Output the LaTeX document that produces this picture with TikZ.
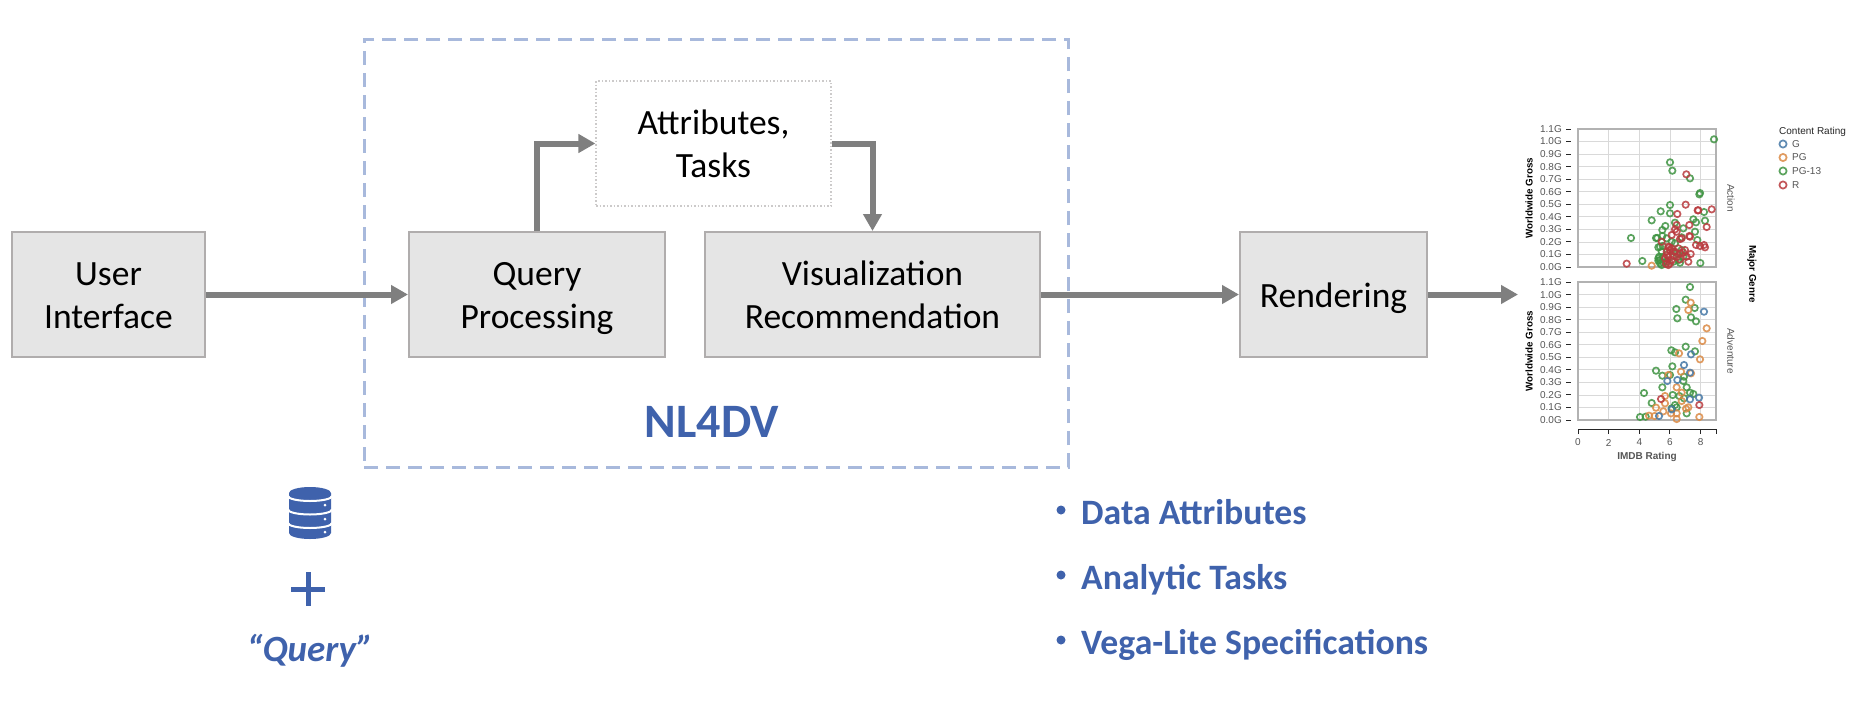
\documentclass[tikz,border=0pt]{standalone}
\usepackage{fontspec}
\setmainfont{Carlito}
\newfontfamily\chartfont{Liberation Sans}
\usetikzlibrary{arrows.meta}
\definecolor{nlblue}{HTML}{3F62AC}
\definecolor{dashblue}{HTML}{A8B9DC}
\definecolor{boxfill}{HTML}{E5E5E5}
\definecolor{boxline}{HTML}{B0ADAD}
\definecolor{arrowgray}{HTML}{7F7F7F}
\definecolor{ptgreen}{HTML}{3F9442}
\definecolor{ptred}{HTML}{B93A3E}
\definecolor{ptorange}{HTML}{DB8A45}
\definecolor{ptblue}{HTML}{4678A6}
\definecolor{ticktext}{HTML}{555555}
\newcommand{\boxline}[2]{\makebox[0pt]{\raisebox{#1}[0pt][0pt]{#2}}}
\newcommand{\twolines}[2]{\boxline{9.5pt}{#1}\boxline{-33.5pt}{#2}}
\tikzset{
  procbox/.style={draw=boxline,fill=boxfill,line width=2,inner sep=0,
    font=\fontsize{35.5}{43}\selectfont,text=black},
  dotbox/.style={draw=boxline!65,dash pattern=on 1.5 off 2,line width=1.2,inner sep=0,
    font=\fontsize{35.5}{43}\selectfont,text=black,fill=white},
  flow/.style={draw=arrowgray,line width=6,-{Triangle[length=17,width=18]}},
  bluetext/.style={text=nlblue,font=\fontsize{35.7}{36}\selectfont\bfseries,inner sep=0},
  pt/.style={draw=#1,line width=1.7,draw opacity=.85,fill=none},
  ticklbl/.style={text=ticktext,font=\chartfont\fontsize{10}{10}\selectfont,inner sep=0},
  axtitle/.style={text=black,font=\chartfont\bfseries\fontsize{9.8}{10}\selectfont,inner sep=0},
  framegrid/.style={draw=black!15,line width=.9},
  chartframe/.style={draw=black!30,line width=1.5},
  axtick/.style={draw=black!85,line width=1},
}
\begin{document}
\begin{tikzpicture}[x=1pt,y=-1pt]
\useasboundingbox (0,0) rectangle (1864,716);
\fill[white] (0,0) rectangle (1864,716);

% NL4DV dashed frame
\node[draw=dashblue,line width=3,dash pattern=on 14 off 8,minimum width=704,minimum height=428,inner sep=0] (nlframe) at (716,253) {};
\node[text=nlblue,font=\fontsize{48}{48}\selectfont\bfseries,inner sep=0] (nltitle) at (712,422) {NL4DV};

% process boxes
\node[procbox,minimum width=193,minimum height=125] (ui) at (108.5,294.5) {\twolines{User}{Interface}};
\node[procbox,minimum width=256,minimum height=125] (qp) at (537,294.5) {\twolines{Query}{Processing}};
\node[procbox,minimum width=335,minimum height=125] (vr) at (872.5,294.5) {\twolines{Visualization}{Recommendation}};
\node[procbox,minimum width=187,minimum height=125] (rd) at (1333.5,294.5) {\boxline{-12.5pt}{Rendering}};
\node[dotbox,minimum width=235,minimum height=125] (at) at (713.5,143.5) {\twolines{Attributes,}{Tasks}};
\coordinate (chartin) at (1518,294.5);

% connectors
\draw[flow] (ui.east) -- (qp.west);
\draw[flow] (qp.north) |- (at.west);
\draw[flow] (at.east) -| (vr.north);
\draw[flow] (vr.east) -- (rd.west);
\draw[flow] (rd.east) -- (chartin);

% database icon
\fill[nlblue] (289,493) arc[start angle=180,end angle=0,x radius=21pt,y radius=6pt]
  -- (331,533) arc[start angle=0,end angle=-180,x radius=21pt,y radius=6pt] -- cycle;
\foreach \yy in {496,509.5,523}
  \draw[white,line width=2] (288,\yy) arc[start angle=180,end angle=360,x radius=22pt,y radius=5pt];
\foreach \yy in {505,519,532}
  \fill[white] (325,\yy) circle[radius=1.5pt];

% plus and query
\fill[nlblue] (291,586.5) rectangle (325,591.5);
\fill[nlblue] (305.5,572) rectangle (310.5,606);
\node[text=nlblue,font=\fontsize{37}{37}\selectfont\bfseries\itshape,inner sep=0,anchor=base] (qtext) at (310,661) {“Query”};

% bullet list
\foreach \i/\yy/\tt in {1/524/Data Attributes,2/589/Analytic Tasks,3/654/Vega-Lite Specifications}{
  \fill[nlblue] (1061,\yy-14) circle[radius=4.5pt];
  \node[bluetext,anchor=base west] (b\i) at (1081,\yy) {\tt};
}

% chart: panels
\foreach \p/\top/\name in {1/129/Action,2/282/Adventure}{
  \foreach \v in {1,...,10}
    \draw[framegrid] (1578,\top+\v*12.55) -- (1716,\top+\v*12.55);
  \foreach \v in {2,4,6,8}
    \draw[framegrid] (1578+\v*15.33,\top) -- (1578+\v*15.33,\top+138);
  \draw[chartframe] (1578,\top) rectangle (1716,\top+138);
  \foreach \v/\lab in {0/1.1G,1/1.0G,2/0.9G,3/0.8G,4/0.7G,5/0.6G,6/0.5G,7/0.4G,8/0.3G,9/0.2G,10/0.1G,11/0.0G}{
    \draw[axtick] (1566,\top+\v*12.55) -- (1571,\top+\v*12.55);
    \node[ticklbl,anchor=east] (yl\p-\v) at (1562,\top+\v*12.55) {\lab};
  }
  \node[axtitle,rotate=90] (yt\p) at (1529,\top+69) {Worldwide Gross};
  \node[ticklbl,rotate=-90] (fc\p) at (1731,\top+69) {\name};
}
\node[axtitle,rotate=-90] (mg) at (1752,274) {Major Genre};

% x axis
\draw[axtick] (1578,434) -- (1578,429) -- (1716,429) -- (1716,434);
\foreach \v in {0,2,4,6,8}{
  \draw[axtick] (1578+\v*15.33,429) -- (1578+\v*15.33,434);
  \node[ticklbl] (xl\v) at (1578+\v*15.33,442.5) {\v};
}
\node[ticklbl,font=\chartfont\bfseries\fontsize{10}{10}\selectfont] (xt) at (1647,457) {IMDB Rating};

% legend
\node[text=black!85,font=\chartfont\fontsize{10}{10}\selectfont,inner sep=0,anchor=west] (lgt) at (1779,132) {Content Rating};
\foreach \i/\yy/\col/\lab in {1/144/ptblue/G,2/157.5/ptorange/PG,3/171/ptgreen/PG-13,4/185/ptred/R}{
  \draw[pt=\col] (1783,\yy) circle[radius=3.6pt];
  \node[ticklbl,anchor=west] (lg\i) at (1792,\yy) {\lab};
}

% top panel points
\begin{scope}[shift={(1480,110)},x=.33333pt,y=-.33333pt]
\foreach \a/\b in {702/88,570/157,577/182,630/205,660/249,658/253,570/285,542/304,570/310,515/331,672/306,640/328,648/337,675/332,585/338,556/348,547/360,610/355,645/365,453/384,528/384,532/384,547/378,560/385,585/400,605/382,652/390,535/412,548/408,540/410,487/453,661/459,535/445,535/452,540/460,545/465,538/440,580/425,590/430,605/420,600/458,580/455,560/455,550/440,545/425,575/395,540/450,550/458,595/450,610/440}
  \draw[pt=ptgreen] (\a,\b) circle[radius=3.2pt];
\foreach \a/\b in {619/193,617/284,592/312,653/301,655/301,695/298,680/351,628/345,590/345,585/358,590/365,575/375,628/378,600/387,605/385,630/380,648/405,660/408,672/405,675/412,565/410,570/420,560/425,575/415,615/420,632/432,620/440,600/430,590/440,565/440,555/445,575/450,625/455,440/461,565/465,585/425,545/395,570/460,560/435,580/438,568/412,610/428,595/415,558/462,600/448}
  \draw[pt=ptred] (\a,\b) circle[radius=3.2pt];
\draw[pt=ptorange] (515,467) circle[radius=3.2pt];
\end{scope}

% bottom panel points
\begin{scope}[shift={(1480,270)},x=.33333pt,y=-.33333pt]
\foreach \a/\b in {630/51,617/89,644/114,589/117,592/145,633/142,648/154,617/230,574/241,585/247,645/244,577/289,528/302,547/317,570/315,610/333,612/320,547/352,620/352,492/369,578/375,598/378,630/368,640/372,612/385,515/399,585/405,590/412,620/430,480/441,497/440,575/415}
  \draw[pt=ptgreen] (\a,\b) circle[radius=3.2pt];
\foreach \a/\b in {632/98,625/120,680/175,667/213,660/268,597/250,603/305,633/310,565/315,590/352,605/368,555/378,605/393,528/413,555/400,625/412,618/416,550/424,573/430,590/430,590/447,507/437,524/438,658/441}
  \draw[pt=ptorange] (\a,\b) circle[radius=3.2pt];
\foreach \a/\b in {672/125,633/253,612/285,630/308,562/333,592/330,630/388,657/383,575/418,537/438}
  \draw[pt=ptblue] (\a,\b) circle[radius=3.2pt];
\foreach \a/\b in {543/387,658/405}
  \draw[pt=ptred] (\a,\b) circle[radius=3.2pt];
\end{scope}
\end{tikzpicture}
\end{document}
